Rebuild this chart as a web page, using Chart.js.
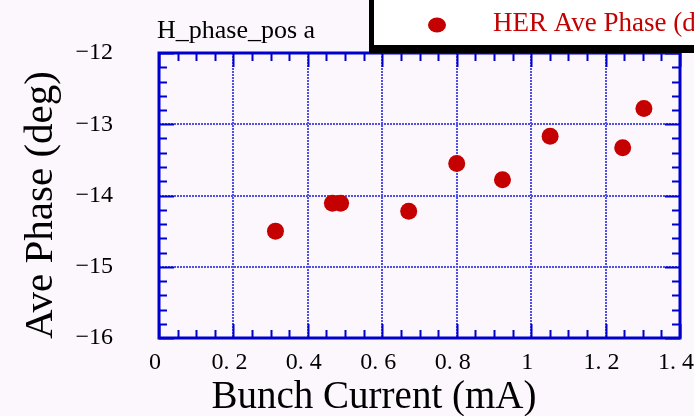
<!DOCTYPE html>
<html>
<head>
<meta charset="utf-8">
<script src="https://cdn.jsdelivr.net/npm/chart.js@4.4.1/dist/chart.umd.min.js"></script>
<style>
  html, body { margin: 0; padding: 0; background: #fcf7fc; }
  canvas { display: block; }
</style>
</head>
<body>
<canvas id="myChart" width="694" height="416"></canvas>
<script>
// data
var bunchCurrent = [0.313, 0.466, 0.488, 0.671, 0.800, 0.923, 1.051, 1.246, 1.303];
var avePhase = [-14.50, -14.11, -14.11, -14.22, -13.55, -13.78, -13.17, -13.33, -12.78];
var xTickLabels = ['0', '0. 2', '0. 4', '0. 6', '0. 8', '1', '1. 2', '1. 4'];
var yTickLabels = ['\u221216', '\u221215', '\u221214', '\u221213', '\u221212'];
var seriesName = 'HER Ave Phase (deg)';
var plotTitle = 'H_phase_pos a';
var xTitle = 'Bunch Current (mA)';
var yTitle = 'Ave Phase (deg)';

var blue = '#0000cc';
var gridBlue = '#5050e8';
var red = '#c40000';
var serif = '"Liberation Serif", "DejaVu Serif", serif';

var points = bunchCurrent.map(function (x, i) { return { x: x, y: avePhase[i] }; });

var framePlugin = {
    id: 'frame',
    beforeDraw: function (chart) {
        var ctx = chart.ctx;
        ctx.save();
        ctx.fillStyle = '#fcf7fc';
        ctx.fillRect(0, 0, chart.width, chart.height);
        ctx.restore();
    },
    afterDraw: function (chart) {
        var ctx = chart.ctx;
        var a = chart.chartArea;
        var xs = chart.scales.x, ys = chart.scales.y;
        ctx.save();
        ctx.strokeStyle = blue;
        ctx.lineWidth = 2;
        // inward ticks on x (every 0.05, major every 0.2)
        for (var i = 0; i <= 28; i++) {
            var px = Math.round(xs.getPixelForValue(i * 0.05)) + 0.5;
            var len = (i % 4 === 0) ? 14 : 8;
            ctx.beginPath();
            ctx.moveTo(px, a.bottom); ctx.lineTo(px, a.bottom - len);
            ctx.moveTo(px, a.top); ctx.lineTo(px, a.top + len);
            ctx.stroke();
        }
        // inward ticks on y (every 0.2, major every 1)
        for (var j = 0; j <= 20; j++) {
            var py = Math.round(ys.getPixelForValue(-16 + j * 0.2)) + 0.5;
            var l2 = (j % 5 === 0) ? 15 : 8;
            ctx.beginPath();
            ctx.moveTo(a.left, py); ctx.lineTo(a.left + l2, py);
            ctx.moveTo(a.right, py); ctx.lineTo(a.right - l2, py);
            ctx.stroke();
        }
        // frame
        ctx.lineWidth = 3;
        ctx.strokeRect(a.left, a.top, a.right - a.left, a.bottom - a.top);

        // axis titles
        ctx.fillStyle = '#000';
        ctx.textBaseline = 'alphabetic';
        ctx.textAlign = 'center';
        ctx.font = '39px ' + serif;
        ctx.fillText(xTitle, 374, 408);
        ctx.save();
        ctx.translate(52, 205);
        ctx.rotate(-Math.PI / 2);
        ctx.font = '41px ' + serif;
        ctx.fillText(yTitle, 0, 0);
        ctx.restore();

        // title
        ctx.font = '26px ' + serif;
        ctx.textAlign = 'left';
        ctx.fillText(plotTitle, 157, 38);

        // legend box with shadow
        ctx.fillStyle = '#000';
        ctx.fillRect(369, -5, 340, 58);
        ctx.fillStyle = '#ffffff';
        ctx.fillRect(373, -5, 340, 51);
        ctx.strokeStyle = '#000';
        ctx.lineWidth = 2;
        ctx.strokeRect(373, -5, 340, 51);
        var ds = chart.data.datasets[0];
        ctx.fillStyle = ds.backgroundColor;
        ctx.beginPath();
        ctx.ellipse(437, 25, 9, 7.5, 0, 0, Math.PI * 2);
        ctx.fill();
        ctx.font = '27px ' + serif;
        ctx.fillText(ds.label, 493, 31);
        ctx.restore();
    }
};

const ctx = document.getElementById('myChart').getContext('2d');
const myChart = new Chart(ctx, {
    type: 'scatter',
    data: {
        datasets: [{
            label: seriesName,
            data: points,
            backgroundColor: red,
            borderColor: red,
            borderWidth: 0,
            pointRadius: 8.5,
            pointHoverRadius: 8.5
        }]
    },
    options: {
        responsive: false,
        animation: false,
        devicePixelRatio: 1,
        layout: { padding: { top: 53, right: 14, left: 0, bottom: 0 } },
        plugins: {
            legend: { display: false },
            tooltip: { enabled: false }
        },
        scales: {
            x: {
                type: 'linear',
                min: 0,
                max: 1.4,
                ticks: {
                    stepSize: 0.2,
                    padding: 10,
                    labelOffset: -4,
                    maxRotation: 0,
                    autoSkip: false,
                    color: '#000',
                    font: { family: serif, size: 24 },
                    callback: function (value, index) { return xTickLabels[index]; }
                },
                grid: { color: gridBlue, lineWidth: 2, drawTicks: false },
                border: { display: false, dash: [2, 1] },
                afterFit: function (scale) {
                    scale.height = 78;
                    scale.paddingLeft = 0;
                    scale.paddingRight = 0;
                }
            },
            y: {
                type: 'linear',
                min: -16,
                max: -12,
                ticks: {
                    stepSize: 1,
                    padding: 46,
                    color: '#000',
                    font: { family: serif, size: 24 },
                    callback: function (value, index) { return yTickLabels[index]; }
                },
                grid: { color: gridBlue, lineWidth: 2, drawTicks: false },
                border: { display: false, dash: [2, 1] },
                afterFit: function (scale) {
                    scale.width = 159;
                    scale.paddingTop = 0;
                    scale.paddingBottom = 0;
                }
            }
        }
    },
    plugins: [framePlugin]
});
</script>
</body>
</html>
